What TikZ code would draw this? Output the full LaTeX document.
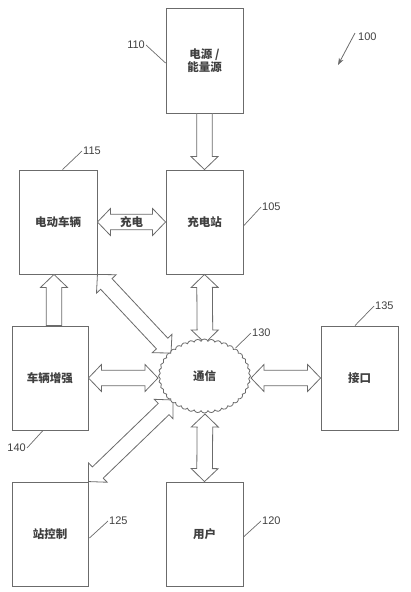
\documentclass[tikz,border=0pt]{standalone}
\usepackage{fontspec}
\setmainfont{Liberation Sans}
\newfontfamily\cjk{Noto Sans CJK SC}
\usetikzlibrary{calc,shapes.symbols,arrows.meta}
\definecolor{linegray}{gray}{0.42}
\definecolor{txtgray}{gray}{0.25}
\def\fhl{13pt}\def\fhw{13.5pt}\def\fsw{7.8pt}
\newcommand\fatdouble[2]{%
 \draw[fat] (#1) -- ($(#1)!\fhl!(#2)!\fhw!90:(#2)$) -- ($(#1)!\fhl!(#2)!\fsw!90:(#2)$)
 -- ($(#2)!\fhl!(#1)!\fsw!-90:(#1)$) -- ($(#2)!\fhl!(#1)!\fhw!-90:(#1)$) -- (#2)
 -- ($(#2)!\fhl!(#1)!\fhw!90:(#1)$) -- ($(#2)!\fhl!(#1)!\fsw!90:(#1)$)
 -- ($(#1)!\fhl!(#2)!\fsw!-90:(#2)$) -- ($(#1)!\fhl!(#2)!\fhw!-90:(#2)$) -- cycle;}
\newcommand\fatsingle[2]{%
 \draw[fat] ($(#1)!\fsw!90:(#2)$) -- ($(#2)!\fhl!(#1)!\fsw!-90:(#1)$)
 -- ($(#2)!\fhl!(#1)!\fhw!-90:(#1)$) -- (#2)
 -- ($(#2)!\fhl!(#1)!\fhw!90:(#1)$) -- ($(#2)!\fhl!(#1)!\fsw!90:(#1)$)
 -- ($(#1)!\fsw!-90:(#2)$) -- cycle;}
\begin{document}
\begin{tikzpicture}[x=1pt,y=-1pt,
  cjktext/.style={text=txtgray, font=\cjk\bfseries\fontsize{11.5}{13.5}\selectfont},
  box/.style={draw=linegray, line width=0.9pt, minimum width=77pt, minimum height=104pt,
    inner sep=0pt, cjktext, align=center},
  fat/.style={draw=linegray, line width=0.8pt, line join=miter, fill=white},
  num/.style={inner sep=1pt, text=txtgray, font=\fontsize{11}{12}\selectfont},
  leader/.style={draw=linegray, line width=0.7pt}]
\useasboundingbox (0,0) rectangle (410,592);
% boxes
\node[box, minimum height=105pt] (power) at (204.5,60.5) {电源 /\\能量源};
\node[box, minimum width=78pt] (ev) at (58,222) {电动车辆};
\node[box] (station) at (204.5,222) {充电站};
\node[box, minimum width=76pt] (veh) at (50,378) {车辆增强};
\node[box] (iface) at (359.5,378) {接口};
\node[box, minimum width=76pt] (stc) at (50,534) {站控制};
\node[box] (user) at (204.5,534) {用户};
% cloud contact points
\coordinate (ct) at (205,343);
\coordinate (cb) at (205,414);
\coordinate (cl) at (158,378);
\coordinate (cr) at (251,378);
\coordinate (cul) at (171,353);
\coordinate (cll) at (173,400);
% fat arrows
\fatsingle{power.south}{station.north}
\fatdouble{ev.east}{station.west}
\node[inner sep=0pt, cjktext] (chg) at ($(ev.east)!0.5!(station.west)$) {充电};
\fatsingle{$(veh.north)+(4,0)$}{$(ev.south)+(-4,0)$}
\fatdouble{ev.south east}{cul}
\fatdouble{station.south}{ct}
\fatdouble{veh.east}{cl}
\fatdouble{cr}{iface.west}
\fatdouble{stc.north east}{cll}
\fatdouble{cb}{user.north}
% cloud
\node[cloud, cloud puffs=40, cloud puff arc=130, draw=linegray, line width=0.8pt, fill=white,
  minimum width=92pt, minimum height=74pt, inner sep=0pt, cjktext] (cloud) at (204.5,376) {通信};
% labels
\node[num, anchor=west] (n100) at (357,37) {100};
\coordinate (a100) at (338,65);
\draw[draw=linegray, line width=0.8pt, -{Stealth[length=7pt,width=5pt]}] ($(n100.west)+(-2,-4)$) -- (a100);
\node[num, anchor=east] (n110) at (146,45) {110};
\draw[leader] (n110.east) -- ($(power.west)+(0,2.5)$);
\node[num, anchor=west] (n115) at (82,151) {115};
\draw[leader] ($(ev.north west)+(44,0)$) -- (n115.west);
\node[num, anchor=west] (n105) at (261,207) {105};
\draw[leader] ($(station.east)+(0,4)$) -- (n105.west);
\node[num, anchor=west] (n130) at (251,333) {130};
\draw[leader] ($(cloud.center)+(31,-28)$) -- (n130.west);
\node[num, anchor=west] (n135) at (374,306) {135};
\draw[leader] ($(iface.north)+(-4.5,0)$) -- (n135.west);
\node[num, anchor=east] (n140) at (27,448) {140};
\draw[leader] (n140.east) -- ($(veh.south)+(-7,0)$);
\node[num, anchor=west] (n125) at (108,521) {125};
\draw[leader] ($(stc.east)+(1,4)$) -- (n125.west);
\node[num, anchor=west] (n120) at (261,521) {120};
\draw[leader] ($(user.east)+(0,3)$) -- (n120.west);
\end{tikzpicture}
\end{document}
